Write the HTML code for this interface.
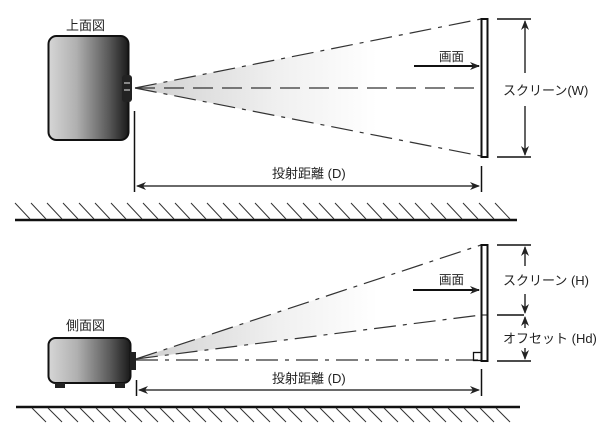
<!DOCTYPE html>
<html><head><meta charset="utf-8"><style>
html,body{margin:0;padding:0;background:#fff;}
svg{display:block;}
text{font-family:"Liberation Sans","Noto Sans CJK JP",sans-serif;fill:#222;}
</style></head><body>
<svg width="600" height="438" viewBox="0 0 600 438" xmlns="http://www.w3.org/2000/svg">
<defs>
<linearGradient id="pg" x1="0" x2="1" y1="0" y2="0">
<stop offset="0" stop-color="#d6d6d6"/><stop offset="0.35" stop-color="#b0b0b0"/><stop offset="0.75" stop-color="#5a5a5a"/><stop offset="1" stop-color="#1a1a1a"/>
</linearGradient>
<linearGradient id="bg" x1="0" x2="1" y1="0" y2="0">
<stop offset="0" stop-color="#cfcfcf"/><stop offset="0.4" stop-color="#efefef"/><stop offset="0.7" stop-color="#ffffff"/><stop offset="1" stop-color="#ffffff"/>
</linearGradient>
<marker id="ah" markerWidth="10" markerHeight="8" refX="9" refY="4" orient="auto" markerUnits="userSpaceOnUse">
<path d="M0,0 L10,4 L0,8 L3,4 Z" fill="#222"/>
</marker>
</defs>

<!-- TOP VIEW -->
<text x="66" y="30" font-size="13">上面図</text>
<polygon points="135,88 481,19 481,156" fill="url(#bg)"/>
<rect x="48.5" y="36" width="80" height="104" rx="8" fill="url(#pg)" stroke="#111" stroke-width="2"/>
<rect x="122" y="75" width="10" height="27" rx="3" fill="#222"/>
<line x1="124" y1="83" x2="130" y2="83" stroke="#ccc" stroke-width="1.2"/>
<line x1="124" y1="90" x2="130" y2="90" stroke="#ccc" stroke-width="1.2"/>
<g stroke="#333" stroke-width="1.2" fill="none">
<line x1="135" y1="88" x2="481" y2="19" stroke-dasharray="22,7,4,7"/>
<line x1="135" y1="88" x2="481" y2="156" stroke-dasharray="22,7,4,7"/>
<line x1="135" y1="88" x2="481" y2="88" stroke-dasharray="20,9"/>
</g>
<rect x="481.5" y="19" width="6" height="138" fill="#fff" stroke="#111" stroke-width="2"/>
<line x1="414" y1="66" x2="479" y2="66" stroke="#111" stroke-width="2" marker-end="url(#ah)"/>
<text x="439" y="61" font-size="12.5">画面</text>
<g stroke="#111" stroke-width="1.5">
<line x1="497" y1="19" x2="531" y2="19"/>
<line x1="497" y1="157" x2="531" y2="157"/>
<line x1="134.5" y1="111" x2="134.5" y2="192"/>
<line x1="481.5" y1="166" x2="481.5" y2="192"/>
</g>
<line x1="525" y1="73" x2="525" y2="21" stroke="#111" stroke-width="1.3" marker-end="url(#ah)"/>
<line x1="525" y1="106" x2="525" y2="155" stroke="#111" stroke-width="1.3" marker-end="url(#ah)"/>
<text x="503" y="95" font-size="13">スクリーン(W)</text>
<line x1="300" y1="186" x2="137" y2="186" stroke="#111" stroke-width="1.3" marker-end="url(#ah)"/>
<line x1="300" y1="186" x2="479" y2="186" stroke="#111" stroke-width="1.3" marker-end="url(#ah)"/>
<text x="272" y="178" font-size="13">投射距離 (D)</text>
<line x1="15" y1="220" x2="517" y2="220" stroke="#111" stroke-width="2.5"/>
<g stroke="#333" stroke-width="1">
<path d="M15,203 l15,16 M31,203 l15,16 M47,203 l15,16 M63,203 l15,16 M79,203 l15,16 M95,203 l15,16 M111,203 l15,16 M127,203 l15,16 M143,203 l15,16 M159,203 l15,16 M175,203 l15,16 M191,203 l15,16 M207,203 l15,16 M223,203 l15,16 M239,203 l15,16 M255,203 l15,16 M271,203 l15,16 M287,203 l15,16 M303,203 l15,16 M319,203 l15,16 M335,203 l15,16 M351,203 l15,16 M367,203 l15,16 M383,203 l15,16 M399,203 l15,16 M415,203 l15,16 M431,203 l15,16 M447,203 l15,16 M463,203 l15,16 M479,203 l15,16 M495,203 l15,16"/>
</g>

<!-- SIDE VIEW -->
<text x="66" y="330" font-size="13">側面図</text>
<polygon points="136,359 481,245 481,315" fill="url(#bg)"/>
<rect x="48.5" y="338" width="82" height="45" rx="7" fill="url(#pg)" stroke="#111" stroke-width="2"/>
<rect x="130" y="352" width="6" height="18" fill="#222"/>
<rect x="55" y="383" width="10" height="5" fill="#222"/>
<rect x="115" y="383" width="10" height="5" fill="#222"/>
<g stroke="#333" stroke-width="1.2" fill="none">
<line x1="136" y1="359" x2="481" y2="245" stroke-dasharray="22,7,4,7"/>
<line x1="136" y1="359" x2="481" y2="315" stroke-dasharray="22,7,4,7"/>
<line x1="136" y1="360" x2="481" y2="360" stroke-dasharray="22,7,4,7"/>
</g>
<rect x="481.5" y="245" width="6" height="116" fill="#fff" stroke="#111" stroke-width="2"/>
<line x1="481" y1="315" x2="488" y2="315" stroke="#111" stroke-width="1"/>
<rect x="473.5" y="352.5" width="8" height="8" fill="none" stroke="#111" stroke-width="1.3"/>
<line x1="413" y1="290" x2="479" y2="290" stroke="#111" stroke-width="2" marker-end="url(#ah)"/>
<text x="439" y="284" font-size="12.5">画面</text>
<g stroke="#111" stroke-width="1.5">
<line x1="497" y1="245" x2="531" y2="245"/>
<line x1="497" y1="315" x2="524" y2="315"/>
<line x1="497" y1="361" x2="531" y2="361"/>
<line x1="136.5" y1="380" x2="136.5" y2="396"/>
<line x1="481.5" y1="369" x2="481.5" y2="396"/>
</g>
<line x1="525" y1="266" x2="525" y2="247" stroke="#111" stroke-width="1.3" marker-end="url(#ah)"/>
<line x1="525" y1="294" x2="525" y2="313" stroke="#111" stroke-width="1.3" marker-end="url(#ah)"/>
<line x1="525" y1="328" x2="525" y2="317" stroke="#111" stroke-width="1.3" marker-end="url(#ah)"/>
<line x1="525" y1="348" x2="525" y2="359" stroke="#111" stroke-width="1.3" marker-end="url(#ah)"/>
<text x="503" y="285" font-size="13">スクリーン (H)</text>
<text x="503" y="343" font-size="13">オフセット (Hd)</text>
<line x1="300" y1="390" x2="139" y2="390" stroke="#111" stroke-width="1.3" marker-end="url(#ah)"/>
<line x1="300" y1="390" x2="479" y2="390" stroke="#111" stroke-width="1.3" marker-end="url(#ah)"/>
<text x="272" y="383" font-size="13">投射距離 (D)</text>
<line x1="16" y1="407" x2="520" y2="407" stroke="#111" stroke-width="2.5"/>
<g stroke="#333" stroke-width="1">
<path d="M32,408 l14,14 M48,408 l14,14 M64,408 l14,14 M80,408 l14,14 M96,408 l14,14 M112,408 l14,14 M128,408 l14,14 M144,408 l14,14 M160,408 l14,14 M176,408 l14,14 M192,408 l14,14 M208,408 l14,14 M224,408 l14,14 M240,408 l14,14 M256,408 l14,14 M272,408 l14,14 M288,408 l14,14 M304,408 l14,14 M320,408 l14,14 M336,408 l14,14 M352,408 l14,14 M368,408 l14,14 M384,408 l14,14 M400,408 l14,14 M416,408 l14,14 M432,408 l14,14 M448,408 l14,14 M464,408 l14,14 M480,408 l14,14 M496,408 l14,14"/>
</g>
</svg>
</body></html>
